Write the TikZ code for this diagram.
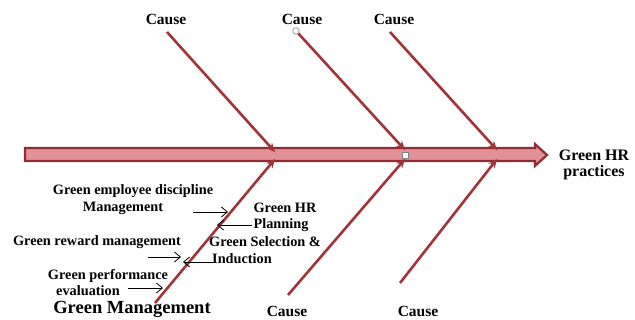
\documentclass[tikz,border=0pt]{standalone}
\usepackage{fontspec}
\setmainfont{Liberation Serif}
\usetikzlibrary{arrows.meta}
\definecolor{bone}{RGB}{160,52,58}
\definecolor{spineline}{RGB}{145,45,50}
\definecolor{spinefill}{RGB}{226,145,150}
\begin{document}
\begin{tikzpicture}[x=1pt,y=-1pt]
\useasboundingbox (0,0) rectangle (635,320);
\tikzset{
  small/.style={font=\bfseries\fontsize{14.3}{16}\selectfont, inner sep=0},
  cause/.style={font=\bfseries\fontsize{15.5}{17}\selectfont, inner sep=0},
  bonearrow/.style={draw=bone, line width=2.6pt, -{Stealth[length=9pt,width=8pt]}},
  ptr/.style={draw=black, line width=0.8pt, -{Straight Barb[length=6pt,width=10pt]}},
  handle/.style={draw=gray, fill=white, line width=0.6pt, minimum size=6pt, inner sep=0},
}
% spine
\draw[spineline, line width=2.2pt, fill=spinefill, line join=miter]
  (25,148) -- (535,148) -- (535,144) -- (547,155) -- (535,166) -- (535,161) -- (25,161) -- cycle;
% bone coordinates
\coordinate (t1s) at (167,32);  \coordinate (t1e) at (275,152);
\coordinate (t2s) at (297,32);  \coordinate (t2e) at (405,150);
\coordinate (t3s) at (390,32);  \coordinate (t3e) at (497,150);
\coordinate (b1s) at (155,303); \coordinate (b1e) at (275,159);
\coordinate (b2s) at (288,295); \coordinate (b2e) at (405,159);
\coordinate (b3s) at (400,283); \coordinate (b3e) at (497,159);
\foreach \b in {t1,t2,t3,b1,b2,b3} \draw[bonearrow] (\b s) -- (\b e);
% handles
\node[handle] (h1) at (405,155) {};
\node[handle, rounded corners=1.5pt] (h2) at (296,31) {};
% cause labels
\node[cause] (c1) at (166,19) {Cause};
\node[cause] (c2) at (302,19) {Cause};
\node[cause] (c3) at (394,19) {Cause};
\node[cause] (c4) at (287,311) {Cause};
\node[cause] (c5) at (418,311) {Cause};
% effect
\node[font=\bfseries\fontsize{16}{18}\selectfont, inner sep=0] (e1) at (594,155) {Green HR};
\node[font=\bfseries\fontsize{16}{18}\selectfont, inner sep=0] (e2) at (594,173) {practices};
\node[font=\bfseries\fontsize{18.5}{20}\selectfont, inner sep=0] (gm) at (132,309) {Green Management};
% sub-causes
\node[small] (s1) at (133,191) {Green employee discipline};
\node[small] (s2) at (123,208) {Management};
\node[small] (s3) at (285,208) {Green HR};
\node[small] (s4) at (281,225) {Planning};
\node[small] (s5) at (97,242) {Green reward management};
\node[small] (s6) at (265,242) {Green Selection \&};
\node[small] (s7) at (242,259) {Induction};
\node[small] (s8) at (108,276) {Green performance};
\node[small] (s9) at (88,291) {evaluation};
% pointer arrows
\coordinate (p1a) at (193,212); \coordinate (p1b) at (228,212);
\coordinate (p2a) at (252,225); \coordinate (p2b) at (217,225);
\coordinate (p3a) at (148,257); \coordinate (p3b) at (181,257);
\coordinate (p4a) at (213,262); \coordinate (p4b) at (183,262);
\coordinate (p5a) at (128,288); \coordinate (p5b) at (163,288);
\foreach \p in {p1,p2,p3,p4,p5} \draw[ptr] (\p a) -- (\p b);
\end{tikzpicture}
\end{document}
